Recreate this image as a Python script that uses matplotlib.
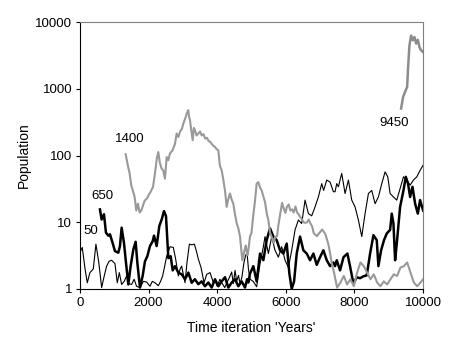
import matplotlib
matplotlib.use('Agg')
import matplotlib.pyplot as plt

plt.rcParams['font.family'] = ['Liberation Sans', 'DejaVu Sans']

# thin black line, started with 50
t50 = [0, 68, 150, 215, 292, 390, 467, 550, 633, 700, 778, 850, 924, 1021, 1089, 1148, 1216,
       1290, 1362, 1430, 1507, 1580, 1650, 1750, 1850, 1945, 2042, 2110, 2188, 2285, 2350, 2411,
       2470, 2528, 2625, 2722, 2790, 2868, 2920, 2965, 3063, 3120, 3189, 3260, 3335, 3400, 3451,
       3529, 3617, 3694, 3792, 3889, 3950, 4000, 4080, 4150, 4220, 4300, 4360, 4422, 4470, 4520,
       4568, 4620, 4665, 4720, 4780, 4830, 4870, 4910, 4956, 5050, 5150, 5248, 5345, 5393, 5491,
       5588, 5685, 5782, 5879, 5977, 6074, 6171, 6268, 6365, 6462, 6560, 6657, 6754, 6851, 6948,
       7046, 7100, 7192, 7289, 7386, 7434, 7483, 7531, 7580, 7628, 7726, 7823, 7920, 8017, 8114,
       8212, 8309, 8406, 8503, 8600, 8697, 8795, 8892, 8970, 9038, 9135, 9232, 9329, 9427, 9524,
       9621, 9718, 9815, 9912, 10000]
p50 = [3.5, 4.2, 2.0, 1.24, 1.76, 2.0, 4.7, 2.5, 1.05, 1.5, 2.2, 2.6, 2.7, 2.4, 1.24, 1.76, 1.17,
       1.3, 1.57, 1.2, 1.17, 1.4, 1.1, 1.05, 1.3, 1.27, 1.1, 1.3, 1.24, 1.12, 1.3, 1.57,
       2.2, 3.1, 4.3, 4.2, 2.8, 1.57, 2.0, 2.2, 1.24, 2.5, 4.7, 4.6, 4.7, 3.6, 2.8,
       2.1, 1.24, 1.66, 1.76, 1.24, 1.3, 1.1, 1.4, 1.2, 1.05, 1.3, 1.5, 1.8, 1.2, 1.9,
       1.3, 1.6, 1.2, 1.5, 2.5, 3.2, 3.5, 2.0, 1.4, 1.3, 1.08, 2.4, 4.3, 6.1, 3.4,
       6.1, 3.8, 3.0, 4.3, 2.7, 2.1, 3.8, 7.7, 10.8, 9.6, 21.5, 13.5, 12.5, 17, 24,
       38, 30, 43, 40, 28.7, 28.7, 38, 34, 43, 54, 27, 43, 21.5, 17, 10.8,
       6.1, 13.5, 27, 30, 19, 24, 38, 57, 48, 27, 24, 21.5, 32, 48, 43,
       36, 43, 48, 60, 72]

# thick black line, started with 650
t650 = [584, 633, 701, 759, 827, 876, 953, 1021, 1119, 1167, 1216, 1284, 1342, 1410, 1478, 1556,
        1624, 1673, 1750, 1828, 1896, 1964, 2042, 2120, 2159, 2236, 2314, 2382, 2450, 2508, 2577,
        2645, 2703, 2771, 2868, 2965, 3063, 3160, 3257, 3350, 3450, 3547, 3644, 3741, 3839, 3936,
        4033, 4130, 4227, 4325, 4422, 4519, 4616, 4713, 4810, 4870, 4907, 4956, 5053, 5150, 5248,
        5345, 5442, 5539, 5636, 5733, 5831, 5928, 6025, 6103, 6171, 6240, 6317, 6414, 6511, 6608,
        6706, 6803, 6900, 6997, 7094, 7192, 7289, 7386, 7434, 7483, 7580, 7680, 7794, 7870, 7969,
        8066, 8163, 8260, 8357, 8455, 8552, 8649, 8697, 8775, 8860, 8941, 9038, 9086, 9135, 9184,
        9232, 9329, 9427, 9495, 9560, 9621, 9690, 9767, 9845, 9912, 10000]
p650 = [15.6, 11, 13.2, 7, 6.3, 6.6, 4.9, 3.7, 3.5, 4.4, 8.3, 4.9, 2.5, 1.17, 2.2, 3.9,
        5.1, 2.5, 1.05, 1.57, 2.6, 3.1, 4.4, 5.2, 6.3, 4.4, 8.8, 11, 14.7, 12.4, 2.9,
        3.1, 1.9, 2.2, 1.76, 1.66, 1.4, 1.76, 1.24, 1.4, 1.18, 1.3, 1.1, 1.25, 1.05, 1.4,
        1.1, 1.3, 1.5, 1.05, 1.25, 1.4, 1.1, 1.3, 1.05, 1.4, 1.25, 1.7, 2.2, 1.3, 3.4,
        2.7, 5.4, 8.1, 6.1, 5.4, 3.8, 3.4, 4.8, 1.7, 1.0, 1.3, 3.4, 6.1, 3.8, 3.4,
        2.7, 3.4, 2.3, 3.0, 3.8, 2.7, 2.2, 2.5, 2.2, 2.7, 1.9, 3.0, 3.4, 2.2, 1.2,
        1.5, 1.45, 1.55, 1.6, 3.4, 6.4, 5.4, 2.2, 3.8, 5.4, 6.8, 7.7, 13.5, 9.6, 2.7,
        4.8, 17, 30, 48, 38, 24, 34, 19, 13.5, 21.5, 15]

# grey line, started with 1400
t1400 = [1332, 1400, 1449, 1497, 1594, 1642, 1690, 1740, 1788, 1840, 1885, 1960, 2010, 2060, 2130,
         2187, 2240, 2283, 2332, 2380, 2429, 2478, 2528, 2575, 2624, 2700, 2770, 2819, 2870, 2920,
         2970, 3012, 3060, 3111, 3157, 3180, 3207, 3240, 3286, 3320, 3353, 3400, 3449, 3500, 3550,
         3600, 3650, 3700, 3750, 3800, 3840, 3890, 3936, 3980, 4032, 4080, 4131, 4180, 4227, 4276,
         4320, 4373, 4420, 4470, 4520, 4568, 4620, 4665, 4700, 4732, 4780, 4830, 4880, 4907, 4956,
         5000, 5053, 5102, 5150, 5199, 5250, 5296, 5394, 5450, 5491, 5540, 5588, 5647, 5685, 5744,
         5782, 5841, 5890, 5940, 5987, 6030, 6084, 6130, 6181, 6230, 6279, 6330, 6376, 6420, 6473,
         6520, 6570, 6620, 6667, 6720, 6765, 6813, 6860, 6910, 6960, 7010, 7056, 7100, 7153, 7200,
         7251, 7300, 7348, 7400, 7445, 7494, 7591, 7688, 7785, 7882, 7980, 8077, 8174, 8271, 8368,
         8466, 8563, 8660, 8757, 8854, 8952, 9049, 9146, 9243, 9340, 9438, 9535, 9632, 9729, 9826,
         9923, 10000]
p1400 = [105, 70, 54, 36, 24, 15, 19, 14, 15, 18, 21, 23, 26, 28.6, 34,
         54, 90, 113, 77, 64, 60, 45, 95, 85, 108, 120, 150, 214, 190, 230,
         250, 300, 350, 425, 480, 380, 340, 250, 170, 260, 240, 200, 214, 230, 200,
         210, 180, 185, 165, 160, 150, 140, 135, 125, 120, 70, 60, 43, 30, 17,
         22, 27, 22, 19, 13, 9.7, 8, 6.1, 4, 2.7, 3.5, 4.5, 3.2, 3.8, 6.1,
         7, 13, 21, 38, 40, 33, 30, 20, 13, 10.8, 7, 6, 4.9, 6, 6.2,
         9, 13.8, 19.6, 16, 13.8, 17, 18.5, 15, 15.6, 14, 17.3, 14, 13.1, 12, 11,
         10, 9.8, 10, 11, 9.5, 8.7, 6.9, 6.5, 6.2, 6.8, 7.2, 7.8, 7.3, 6.6, 5.5,
         4.4, 3.2, 2.3, 1.8, 1.4, 1.05, 1.25, 1.57, 1.17, 1.4, 1.1, 1.76, 2.5, 2.2, 1.76,
         1.4, 1.66, 1.25, 1.1, 1.3, 1.17, 1.4, 1.66, 1.57, 2.1, 2.2, 2.5, 1.76, 1.25, 1.1,
         1.25, 1.4]

# grey line, started with 9450
t9450 = [9358, 9417, 9485, 9534, 9563, 9601, 9650, 9700, 9747, 9796, 9845, 9893, 9942, 10000]
p9450 = [507, 760, 930, 1070, 2140, 4470, 6300, 5350, 6000, 4770, 5450, 4230, 3780, 3560]

fig = plt.figure(figsize=(4.54, 3.52), dpi=100)
ax = fig.add_axes([0.176, 0.179, 0.756, 0.758])

ax.plot(t50, p50, color='black', lw=0.8)
ax.plot(t650, p650, color='black', lw=1.8)
ax.plot(t1400, p1400, color='#999999', lw=1.5)
ax.plot(t9450, p9450, color='#8c8c8c', lw=1.8)

ax.text(1443, 176, '1400', fontsize=9.5, ha='center', va='center')
ax.text(670, 24.7, '650', fontsize=9.5, ha='center', va='center')
ax.text(306, 7.4, '50', fontsize=9.5, ha='center', va='center')
ax.text(9169, 310, '9450', fontsize=9.5, ha='center', va='center')

ax.set_yscale('log')
ax.set_xlim(0, 10000)
ax.set_ylim(1, 10000)
ax.set_xticks([0, 2000, 4000, 6000, 8000, 10000])
ax.set_yticks([1, 10, 100, 1000, 10000])
ax.set_yticklabels(['1', '10', '100', '1000', '10000'])
ax.minorticks_off()
ax.tick_params(labelsize=9.5, length=3, width=0.8, pad=2.5)

ax.spines['top'].set_color('#808080')
ax.spines['right'].set_color('#808080')
for s in ax.spines.values():
    s.set_linewidth(0.8)

ax.set_xlabel("Time iteration 'Years'", fontsize=10, labelpad=9)
ax.set_ylabel('Population', fontsize=10, labelpad=3)

fig.savefig('out.png', dpi=100)
